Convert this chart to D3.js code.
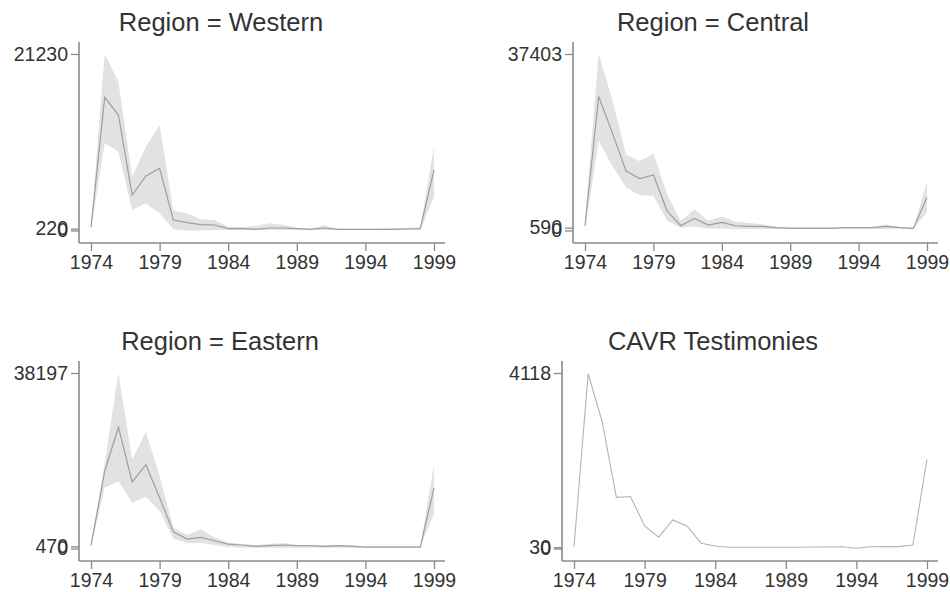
<!DOCTYPE html>
<html>
<head>
<meta charset="utf-8">
<script src="https://cdn.jsdelivr.net/npm/d3@7"></script>
<style>
	body { margin: 0; background: #fff; }
	svg { display: block; font-family: 'Liberation Sans', Arial, sans-serif; }
</style>
</head>
<body>
<div id="chart_div" style="width:950px;height:592px"></div>
<script>
var years = [1974, 1975, 1976, 1977, 1978, 1979, 1980, 1981, 1982, 1983, 1984, 1985, 1986,
	1987, 1988, 1989, 1990, 1991, 1992, 1993, 1994, 1995, 1996, 1997, 1998, 1999];
var x_ticks = [1974, 1979, 1984, 1989, 1994, 1999];

var western_mean = [400, 16020, 13890, 4270, 6560, 7480, 1260, 940, 700, 660, 220, 220, 140,
	300, 300, 220, 140, 300, 140, 140, 140, 140, 140, 180, 220, 7280];
var western_upper = [700, 21230, 17900, 6470, 10080, 12690, 2390, 2070, 1340, 1260, 460, 420, 540,
	860, 660, 340, 220, 620, 220, 220, 220, 220, 260, 340, 380, 10080];
var western_lower = [100, 10480, 9480, 2470, 3270, 2070, 140, 0, 0, 60, 60, 60, 60,
	60, 60, 60, 60, 60, 60, 60, 60, 60, 60, 60, 60, 4070];
var western_ticks = [0, 220, 21230];

var central_mean = [1010, 28410, 20690, 12600, 11000, 11770, 4170, 1010, 2560, 1150, 1700, 1010, 870,
	870, 590, 450, 450, 450, 450, 590, 590, 590, 870, 590, 450, 7000];
var central_upper = [1800, 37403, 27700, 16100, 14700, 16300, 7660, 2060, 4520, 2060, 2970, 1850, 1570,
	1290, 730, 730, 730, 730, 730, 730, 730, 730, 1290, 730, 590, 10290];
var central_lower = [300, 18920, 13660, 9090, 7480, 7340, 2060, 590, 870, 450, 450, 310, 310,
	310, 310, 310, 310, 310, 310, 310, 310, 310, 310, 310, 310, 3820];
var central_ticks = [0, 590, 37403];

var eastern_mean = [610, 16810, 26390, 14440, 18250, 11050, 3640, 2050, 2410, 1690, 970, 760, 470,
	610, 760, 610, 610, 470, 610, 470, 320, 320, 320, 320, 320, 13210];
var eastern_upper = [900, 18610, 38197, 19330, 25450, 15730, 4570, 2920, 4210, 2410, 1330, 970, 760,
	970, 1190, 760, 760, 760, 760, 760, 470, 470, 470, 470, 470, 18250];
var eastern_lower = [300, 13210, 14650, 9970, 11260, 8170, 2200, 1190, 1190, 760, 320, 180, 180,
	180, 180, 180, 180, 180, 180, 180, 180, 180, 180, 180, 180, 7670];
var eastern_ticks = [0, 470, 38197];

var cavr_counts = [30, 4100, 2970, 1200, 1220, 530, 265, 670, 530, 125, 60, 30, 30,
	30, 30, 30, 30, 35, 35, 40, 5, 40, 45, 45, 80, 2090];
var cavr_ticks = [0, 30, 4118];

var panel_titles = ['Region = Western', 'Region = Central', 'Region = Eastern', 'CAVR Testimonies'];

var text_colour = '#333333';
var axis_colour = '#8a8a8a';

function draw_svg(div_id) {
	var chart_div = document.getElementById(div_id);
	var svg = d3
		.select('#' + div_id)
		.append('svg')
		.attr('width', chart_div.clientWidth)
		.attr('height', chart_div.clientHeight);
	return svg;
}

function draw_panel(svg, p) {
	// p.axis_x / p.axis_top / p.axis_y are the axis lines, p.right the end of the x axis
	var x_scale = d3.scaleLinear().domain([1974, 1999]).range([p.axis_x + 12, p.right - 11]);
	var y_scale = d3
		.scaleLinear()
		.domain([0, d3.max(p.ticks)])
		.range([p.axis_y - 12.5, p.axis_top + 12]);

	var g = svg.append('g').attr('class', 'panel');

	g.append('text')
		.attr('x', p.title_x)
		.attr('y', p.axis_top - 11)
		.attr('text-anchor', 'middle')
		.attr('font-size', 25.5)
		.attr('fill', text_colour)
		.text(p.title);

	var rows = years.map(function (d, i) {
		return {
			year: d,
			mean: p.mean[i],
			lower: p.lower ? p.lower[i] : null,
			upper: p.upper ? p.upper[i] : null,
		};
	});

	if (p.lower) {
		var band = d3
			.area()
			.x((d) => x_scale(d.year))
			.y0((d) => y_scale(d.lower))
			.y1((d) => y_scale(d.upper));
		g.append('path').datum(rows).attr('d', band).attr('fill', '#e2e2e2').attr('stroke', 'none');
	}

	var line = d3
		.line()
		.x((d) => x_scale(d.year))
		.y((d) => y_scale(d.mean));
	g.append('path')
		.datum(rows)
		.attr('d', line)
		.attr('fill', 'none')
		.attr('stroke', p.lower ? '#9e9e9e' : '#b4b4b4')
		.attr('stroke-width', p.lower ? 1.2 : 1.1);

	// axes
	var y_axis = d3.axisLeft(y_scale).tickValues(p.ticks).tickFormat(d3.format('d')).tickSize(8).tickPadding(3);
	var y_g = g
		.append('g')
		.attr('transform', 'translate(' + p.axis_x + ',0)')
		.call(y_axis);
	y_g.select('.domain').attr('d', 'M0,' + p.axis_top + 'V' + p.axis_y);

	var x_axis = d3.axisBottom(x_scale).tickValues(x_ticks).tickFormat(d3.format('d')).tickSize(8).tickPadding(4);
	var x_g = g
		.append('g')
		.attr('transform', 'translate(0,' + p.axis_y + ')')
		.call(x_axis);
	x_g.select('.domain').attr('d', 'M' + p.axis_x + ',0H' + p.right);

	g.selectAll('.domain').attr('stroke', axis_colour).attr('stroke-width', 1.6);
	g.selectAll('.tick line').attr('stroke', axis_colour).attr('stroke-width', 1.3);
	g.selectAll('.tick text')
		.attr('font-size', 19.5)
		.attr('font-family', "'Liberation Sans', Arial, sans-serif")
		.attr('fill', text_colour);
}

var svg = draw_svg('chart_div');

var panels = [
	{ title: panel_titles[0], title_x: 221, axis_x: 79, axis_top: 42, axis_y: 243, right: 445,
		mean: western_mean, lower: western_lower, upper: western_upper, ticks: western_ticks },
	{ title: panel_titles[1], title_x: 713, axis_x: 573, axis_top: 42, axis_y: 243, right: 938,
		mean: central_mean, lower: central_lower, upper: central_upper, ticks: central_ticks },
	{ title: panel_titles[2], title_x: 220, axis_x: 79, axis_top: 361, axis_y: 561, right: 445,
		mean: eastern_mean, lower: eastern_lower, upper: eastern_upper, ticks: eastern_ticks },
	{ title: panel_titles[3], title_x: 713, axis_x: 562, axis_top: 361, axis_y: 561, right: 938,
		mean: cavr_counts, lower: null, upper: null, ticks: cavr_ticks },
];

for (var p in panels) {
	draw_panel(svg, panels[p]);
}
</script>
</body>
</html>
